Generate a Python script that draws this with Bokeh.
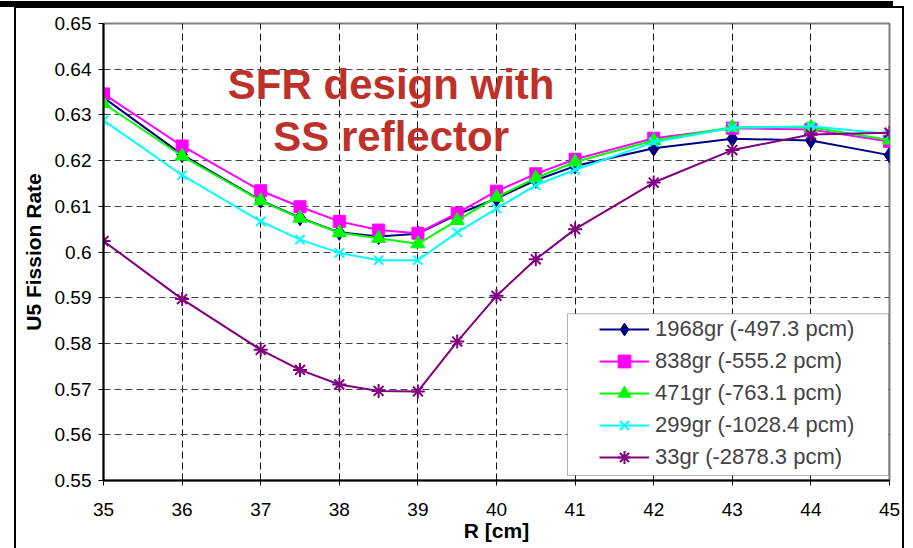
from bokeh.plotting import figure
from bokeh.models import (Range1d, FixedTicker, CustomJSTickFormatter, Legend, LegendItem,
                          Label, BoxAnnotation)
from bokeh.embed import file_html
from bokeh.resources import INLINE

# ---- data ----
r_cm = [35, 36, 37, 37.5, 38, 38.5, 39, 39.5, 40, 40.5, 41, 42, 43, 44, 45]
rate_1968gr = [0.6338, 0.6213, 0.6113, 0.6075, 0.6043, 0.6034, 0.6040, 0.6082, 0.6117, 0.6157, 0.6188, 0.6227, 0.6248, 0.6244, 0.6212]
rate_838gr = [0.6346, 0.6232, 0.6134, 0.6099, 0.6067, 0.6048, 0.6041, 0.6085, 0.6133, 0.6171, 0.6203, 0.6249, 0.6271, 0.6268, 0.6242]
rate_471gr = [0.6325, 0.6210, 0.6112, 0.6074, 0.6042, 0.6030, 0.6018, 0.6069, 0.6120, 0.6162, 0.6197, 0.6244, 0.6273, 0.6273, 0.6245]
rate_299gr = [0.6288, 0.6168, 0.6067, 0.6027, 0.5998, 0.5982, 0.5982, 0.6043, 0.6095, 0.6146, 0.6180, 0.6240, 0.6272, 0.6275, 0.6258]
rate_33gr = [0.6024, 0.5897, 0.5786, 0.5742, 0.5710, 0.5696, 0.5695, 0.5804, 0.5904, 0.5984, 0.6050, 0.6152, 0.6223, 0.6257, 0.6261]

series_labels = ["1968gr (-497.3 pcm)", "838gr (-555.2 pcm)", "471gr (-763.1 pcm)",
                 "299gr (-1028.4 pcm)", "33gr (-2878.3 pcm)"]
x_ticks = [35, 36, 37, 38, 39, 40, 41, 42, 43, 44, 45]
y_ticks = [0.55, 0.56, 0.57, 0.58, 0.59, 0.60, 0.61, 0.62, 0.63, 0.64, 0.65]

FONT = "Liberation Sans"

p = figure(width=913, height=548, output_backend="svg", toolbar_location=None,
           x_range=Range1d(35, 45), y_range=Range1d(0.55, 0.65),
           min_border_left=103, min_border_right=24, min_border_top=23, min_border_bottom=68)
p.background_fill_color = "white"
p.border_fill_color = None
p.outline_line_color = "#808080"
p.outline_line_width = 2

# outer picture frame drawn behind the (transparent) canvas border
p.styles = {
    "background-color": "white",
    "background-image": ("linear-gradient(black, black), linear-gradient(black, black), "
                         "linear-gradient(black, black), linear-gradient(black, black)"),
    "background-size": "893px 6px, 2px 560px, 2px 560px, 890px 2px",
    "background-position": "0px 1px, 14px 6px, 902px 6px, 14px 6px",
    "background-repeat": "no-repeat",
}

# axes
p.xaxis.ticker = FixedTicker(ticks=x_ticks)
p.yaxis.ticker = FixedTicker(ticks=y_ticks)
p.yaxis.formatter = CustomJSTickFormatter(code="return String(Math.round(tick*100)/100);")
for ax in (p.xaxis, p.yaxis):
    ax.axis_line_color = "black"
    ax.axis_line_width = 2
    ax.major_tick_line_color = "black"
    ax.major_tick_out = 5
    ax.major_tick_in = 0
    ax.minor_tick_line_color = None
    ax.major_label_text_font = FONT
    ax.major_label_text_font_size = "19px"
    ax.major_label_text_color = "black"
    ax.axis_label_text_font = FONT
    ax.axis_label_text_font_size = "21px"
    ax.axis_label_text_font_style = "bold"
    ax.axis_label_text_color = "black"
p.xaxis.axis_label = "R [cm]"
p.yaxis.axis_label = "U5 Fission Rate"
p.yaxis.major_label_standoff = 7
p.yaxis.axis_label_standoff = 7
p.xaxis.major_label_standoff = 17
p.xaxis.axis_label_standoff = 0

# grid
p.xgrid.ticker = FixedTicker(ticks=x_ticks)
p.ygrid.ticker = FixedTicker(ticks=y_ticks)
p.xgrid.grid_line_color = "#111111"
p.ygrid.grid_line_color = "#444444"
p.xgrid.grid_line_dash = "7 4"
p.ygrid.grid_line_dash = "7 4"
p.xgrid.grid_line_width = 1
p.ygrid.grid_line_width = 1

# series
specs = [
    (rate_1968gr, "#000080", "diamond", 16, 1),
    (rate_838gr, "#FF00FF", "square", 12, 1),
    (rate_471gr, "#00FF00", "triangle", 14, 1),
    (rate_299gr, "#00FFFF", "x", 13, 2),
    (rate_33gr, "#800080", "asterisk", 14, 2),
]
items = []
for (vals, col, mk, sz, mlw), lab in zip(specs, series_labels):
    ln = p.line(r_cm, vals, line_color=col, line_width=2)
    sc = p.scatter(r_cm, vals, marker=mk, size=sz, fill_color=col, line_color=col, line_width=mlw)
    items.append(LegendItem(label=lab, renderers=[ln, sc]))

# title text inside the plot
p.add_layout(Label(x=38.66, y=0.6367, text="SFR design with", text_align="center",
                   text_baseline="alphabetic", text_font=FONT, text_font_size="42px",
                   text_font_style="bold", text_color="#BE3129"))
p.add_layout(Label(x=38.66, y=0.6252, text="SS reflector", text_align="center",
                   text_baseline="alphabetic", text_font=FONT, text_font_size="42px",
                   text_font_style="bold", text_color="#BE3129"))

# legend box
p.add_layout(BoxAnnotation(left=40.903, right=44.987, top=0.58648, bottom=0.5511,
                           fill_color="white", fill_alpha=1, line_color="black", line_width=1))
legend = Legend(items=items, location=(490, 1), padding=6, spacing=0,
                glyph_width=50, glyph_height=32, label_height=20, label_standoff=6,
                label_text_font=FONT, label_text_font_size="22px",
                border_line_alpha=0, background_fill_alpha=0, margin=0)
p.add_layout(legend)

open("out.html", "w").write(file_html(p, INLINE))
